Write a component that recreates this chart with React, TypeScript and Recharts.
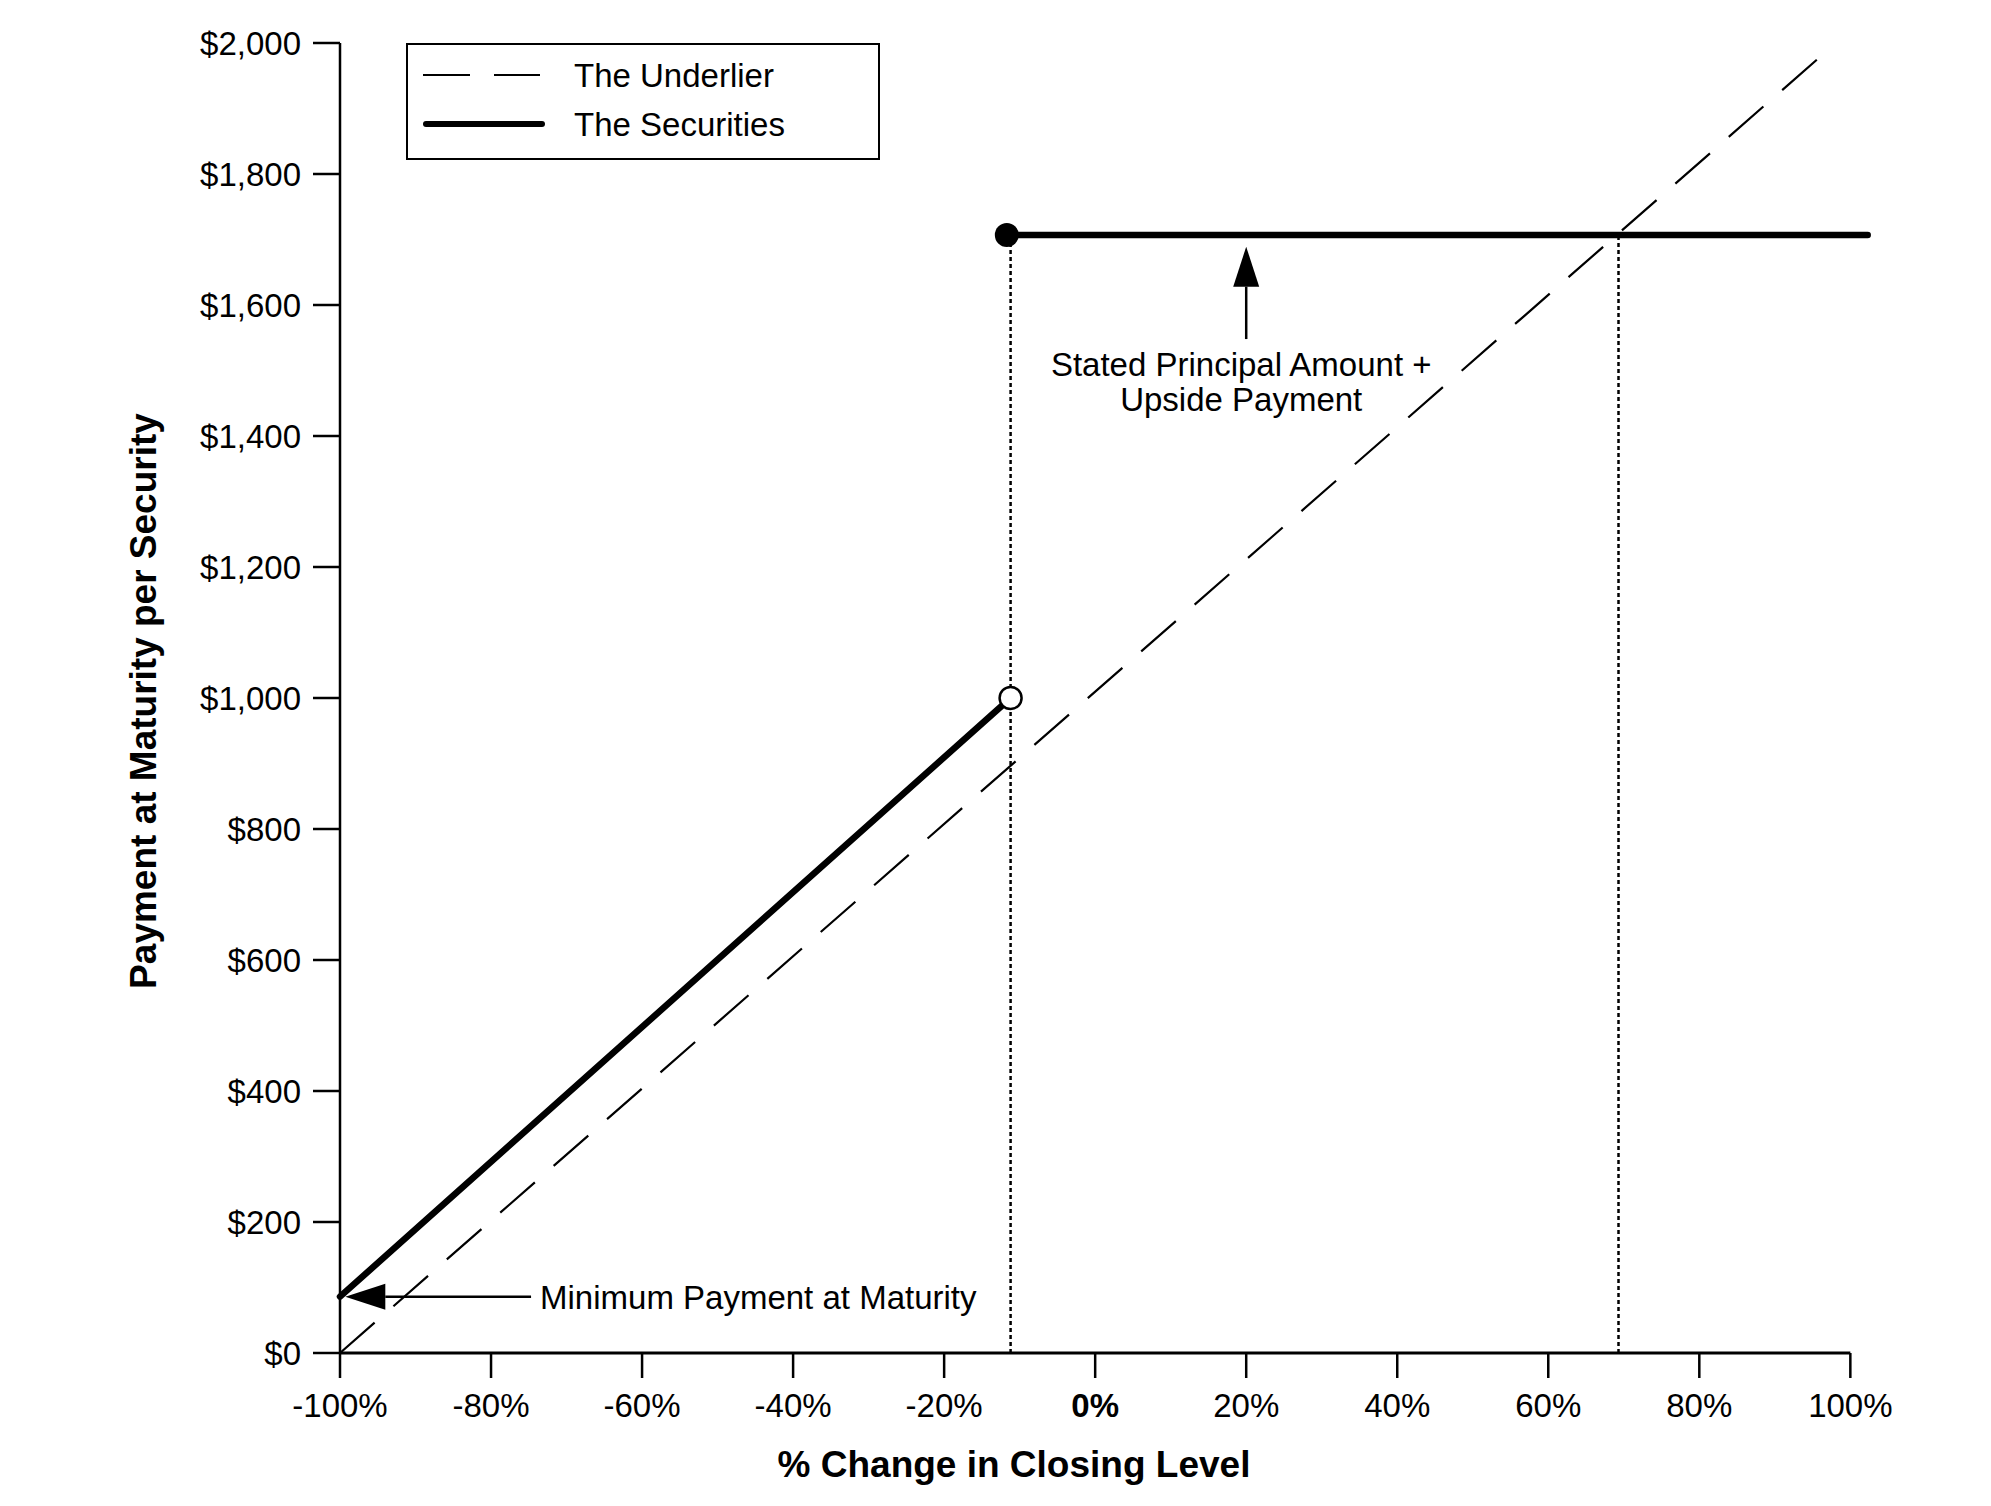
import React from 'react';
import { LineChart, Line, XAxis, YAxis, ReferenceLine, Legend } from 'recharts';

const FONT = '"Liberation Sans", Arial, Helvetica, sans-serif';

// axis ticks
const xTicks = [-100, -80, -60, -40, -20, 0, 20, 40, 60, 80, 100];
const yTicks = [0, 200, 400, 600, 800, 1000, 1200, 1400, 1600, 1800, 2000];

// The Underlier (dashed)
const underlierPct = [-100, 97.3];
const underlierPay = [0, 1992];

// The Securities, below the threshold
const securitiesLowPct = [-100, -11.2];
const securitiesLowPay = [86, 1000];

// The Securities, capped payment
const securitiesCapPct = [-11.7, 102.3];
const securitiesCapPay = [1707, 1707];

// dotted guide lines
const thresholdPct = [-11.2, -11.2];
const thresholdPay = [0, 1707];
const breakevenPct = [69.3, 69.3];
const breakevenPay = [0, 1707];

// annotation arrows (tail, tip)
const minPaymentArrow = [{ x: -74.7, y: 86 }, { x: -99.3, y: 86 }];
const upsideArrow = [{ x: 20, y: 1548 }, { x: 20, y: 1689 }];

const toPoints = (xs: number[], ys: number[]) => xs.map((x, i) => ({ x, y: ys[i] }));

const fmtDollar = (v: number) => `$${v.toLocaleString('en-US')}`;

const arrowParts = (x1: number, y1: number, x2: number, y2: number) => {
  const dx = x2 - x1;
  const dy = y2 - y1;
  const len = Math.hypot(dx, dy) || 1;
  const ux = dx / len;
  const uy = dy / len;
  const head = 40;
  const half = 13;
  const bx = x2 - ux * head;
  const by = y2 - uy * head;
  const px = -uy * half;
  const py = ux * half;
  return (
    <>
      <line x1={x1} y1={y1} x2={bx} y2={by} stroke="#000" strokeWidth={2.5} />
      <polygon points={`${x2},${y2} ${bx + px},${by + py} ${bx - px},${by - py}`} fill="#000" />
    </>
  );
};

const MinPaymentShape = (p: any) => (
  <g>
    {arrowParts(p.x1, p.y1, p.x2, p.y2)}
    <text x={p.x1 + 9} y={p.y1 + 12} fontSize={33} fontFamily={FONT} fill="#000">
      Minimum Payment at Maturity
    </text>
  </g>
);

const UpsideShape = (p: any) => {
  // segment goes tail (bottom) -> tip (top)
  const tailY = Math.max(p.y1, p.y2);
  const tailX = p.y1 > p.y2 ? p.x1 : p.x2;
  const tipY = Math.min(p.y1, p.y2);
  const tipX = p.y1 > p.y2 ? p.x2 : p.x1;
  return (
    <g>
      {arrowParts(tailX, tailY, tipX, tipY)}
      <text x={tailX - 5} y={tailY + 37} textAnchor="middle" fontSize={33} fontFamily={FONT} fill="#000">
        Stated Principal Amount +
      </text>
      <text x={tailX - 5} y={tailY + 72} textAnchor="middle" fontSize={33} fontFamily={FONT} fill="#000">
        Upside Payment
      </text>
    </g>
  );
};

const XTick = (p: any) => (
  <text
    x={p.x}
    y={p.y}
    dy="0.71em"
    textAnchor="middle"
    fontSize={33}
    fontFamily={FONT}
    fontWeight={p.payload.value === 0 ? 'bold' : 'normal'}
    fill="#000"
  >
    {`${p.payload.value}%`}
  </text>
);

const XTitle = () => (
  <text x={1006} y={1456} textAnchor="middle" dominantBaseline="central" fontSize={37} fontWeight="bold" fontFamily={FONT} fill="#000">
    % Change in Closing Level
  </text>
);

const YTitle = () => (
  <text
    x={135}
    y={693}
    transform="rotate(-90, 135, 693)"
    textAnchor="middle"
    dominantBaseline="central"
    fontSize={37}
    fontWeight="bold"
    fontFamily={FONT}
    fill="#000"
  >
    Payment at Maturity per Security
  </text>
);

const LegendBox = () => (
  <svg width={474} height={117} style={{ display: 'block' }}>
    <rect x={1} y={1} width={472} height={115} fill="#fff" stroke="#000" strokeWidth={2} />
    <line x1={17} x2={134} y1={32} y2={32} stroke="#000" strokeWidth={2} strokeDasharray="47 24" />
    <text x={168} y={32} dominantBaseline="central" fontSize={33} fontFamily={FONT} fill="#000">
      The Underlier
    </text>
    <line x1={20} x2={136} y1={81} y2={81} stroke="#000" strokeWidth={6} strokeLinecap="round" />
    <text x={168} y={81} dominantBaseline="central" fontSize={33} fontFamily={FONT} fill="#000">
      The Securities
    </text>
  </svg>
);

const OpenDot = (p: any) =>
  p.index === 1 ? (
    <circle key={`o${p.index}`} cx={p.cx} cy={p.cy} r={11} fill="#fff" stroke="#000" strokeWidth={2.5} />
  ) : (
    <g key={`o${p.index}`} />
  );

const FilledDot = (p: any) =>
  p.index === 0 ? (
    <circle key={`f${p.index}`} cx={p.cx} cy={p.cy} r={12} fill="#000" stroke="none" />
  ) : (
    <g key={`f${p.index}`} />
  );

export default function App() {
  return (
    <div style={{ width: 1975, height: 1490, background: '#fff', fontFamily: FONT }}>
      <LineChart width={1975} height={1490} margin={{ top: 35, right: 110, bottom: 0, left: 0 }}>
        <XAxis
          type="number"
          dataKey="x"
          domain={[-100, 103]}
          ticks={xTicks}
          interval={0}
          axisLine={false}
          tickSize={25}
          tickMargin={16}
          tickLine={{ stroke: '#000', strokeWidth: 2.5 }}
          tick={(p: any) => <XTick {...p} />}
          height={145}
          label={<XTitle />}
        />
        <YAxis
          type="number"
          domain={[0, 2000]}
          ticks={yTicks}
          interval={0}
          width={332}
          axisLine={{ stroke: '#000', strokeWidth: 2.5 }}
          tickLine={{ stroke: '#000', strokeWidth: 2.5 }}
          tickSize={27}
          tickMargin={12}
          tick={{ fontSize: 33, fill: '#000', fontFamily: FONT }}
          tickFormatter={fmtDollar}
          label={<YTitle />}
        />
        <ReferenceLine
          segment={[{ x: -100, y: 0 }, { x: 100, y: 0 }]}
          stroke="#000"
          strokeWidth={3}
          ifOverflow="visible"
        />
        <Line
          data={toPoints(thresholdPct, thresholdPay)}
          dataKey="y"
          type="linear"
          stroke="#000"
          strokeWidth={2.5}
          strokeDasharray="4 3"
          dot={false}
          legendType="none"
          isAnimationActive={false}
        />
        <Line
          data={toPoints(breakevenPct, breakevenPay)}
          dataKey="y"
          type="linear"
          stroke="#000"
          strokeWidth={2.5}
          strokeDasharray="4 3"
          dot={false}
          legendType="none"
          isAnimationActive={false}
        />
        <Line
          name="The Underlier"
          data={toPoints(underlierPct, underlierPay)}
          dataKey="y"
          type="linear"
          stroke="#000"
          strokeWidth={2.2}
          strokeDasharray="46 25"
          dot={false}
          isAnimationActive={false}
        />
        <Line
          name="The Securities"
          data={toPoints(securitiesLowPct, securitiesLowPay)}
          dataKey="y"
          type="linear"
          stroke="#000"
          strokeWidth={6.5}
          strokeLinecap="round"
          dot={OpenDot}
          activeDot={false}
          isAnimationActive={false}
        />
        <Line
          data={toPoints(securitiesCapPct, securitiesCapPay)}
          dataKey="y"
          type="linear"
          stroke="#000"
          strokeWidth={6.5}
          strokeLinecap="round"
          dot={FilledDot}
          activeDot={false}
          legendType="none"
          isAnimationActive={false}
        />
        <ReferenceLine segment={minPaymentArrow} ifOverflow="visible" shape={MinPaymentShape} />
        <ReferenceLine segment={upsideArrow} ifOverflow="visible" shape={UpsideShape} />
        <Legend
          layout="horizontal"
          verticalAlign="middle"
          align="center"
          wrapperStyle={{ top: 35, left: 398, width: 474, height: 117 }}
          content={() => <LegendBox />}
        />
      </LineChart>
    </div>
  );
}
